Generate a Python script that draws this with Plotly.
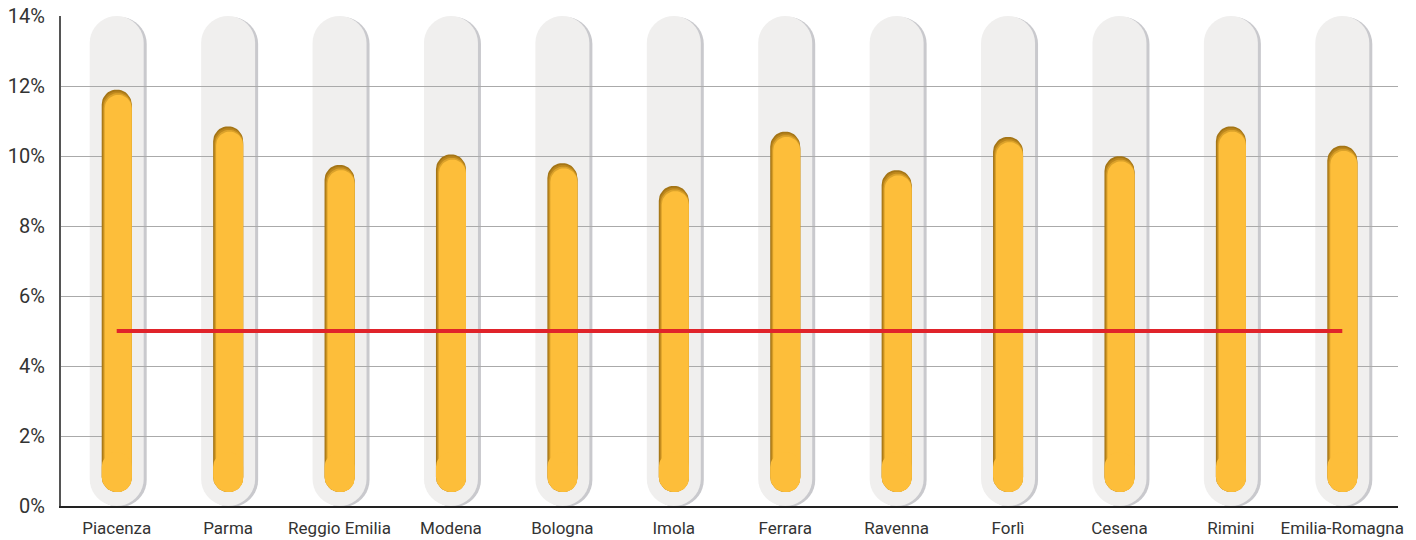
import math
import plotly.graph_objects as go

# ---------------- data ----------------
categories = ["Piacenza", "Parma", "Reggio Emilia", "Modena", "Bologna", "Imola",
              "Ferrara", "Ravenna", "Forlì", "Cesena", "Rimini", "Emilia-Romagna"]
values = [11.9, 10.85, 9.75, 10.05, 9.8, 9.15, 10.7, 9.6, 10.55, 10.0, 10.85, 10.3]
target = [5.0, 5.0]
y_tick_values = [0, 2, 4, 6, 8, 10, 12, 14]
y_tick_labels = ["0%", "2%", "4%", "6%", "8%", "10%", "12%", "14%"]
y_max = 14
bar_floor = 0.4

# ---------------- layout constants ----------------
W, H = 1416, 540
ML, MR, MT, MB = 61, 18, 16, 34
n = len(categories)
xs = list(range(n))
px_x = (W - ML - MR) / n          # pixels per category unit
px_y = (H - MT - MB) / y_max      # pixels per percent


def capsule_points(xc, half_w_px, y0, y1, dx_px=0.0, dy_top_px=0.0, dy_bot_px=0.0, steps=20):
    """Rounded (capsule) outline in data coordinates, as x and y lists."""
    rx = half_w_px / px_x
    ry = half_w_px / px_y
    cx = xc + dx_px / px_x
    b = y0 - dy_bot_px / px_y
    t = y1 - dy_top_px / px_y
    px, py = [], []
    for i in range(steps + 1):
        a = math.pi - math.pi * i / steps
        px.append(cx + rx * math.cos(a))
        py.append(t - ry + ry * math.sin(a))
    for i in range(steps + 1):
        a = -math.pi * i / steps
        px.append(cx + rx * math.cos(a))
        py.append(b + ry + ry * math.sin(a))
    px.append(px[0])
    py.append(py[0])
    return px, py


def capsule_path(*args, **kw):
    px, py = capsule_points(*args, **kw)
    return "M " + " L ".join(f"{a:.5f},{b:.5f}" for a, b in zip(px, py)) + " Z"


# background tubes (below the grid lines)
shapes = []
tube_half = 27
for i in xs:
    shapes.append(dict(type="path", xref="x", yref="y", layer="below",
                       path=capsule_path(i, tube_half, 0, y_max, dx_px=3, dy_top_px=1, dy_bot_px=1),
                       fillcolor="#c9c9cd", line=dict(width=0)))
    shapes.append(dict(type="path", xref="x", yref="y", layer="below",
                       path=capsule_path(i, tube_half, 0, y_max),
                       fillcolor="#f0efee", line=dict(width=0)))

fig = go.Figure()
BAR_HALF = 15.0


def add_layer(color, left_inset, top_inset, cap_height=None):
    half = BAR_HALF - left_inset / 2.0
    dx = left_inset / 2.0
    X, Y = [], []
    for i, v in zip(xs, values):
        top = bar_floor + cap_height / px_y if cap_height else v
        px, py = capsule_points(i, half, bar_floor, top, dx_px=dx, dy_top_px=top_inset)
        X += px + [None]
        Y += py + [None]
    fig.add_trace(go.Scatter(x=X, y=Y, mode="lines", fill="toself", fillcolor=color,
                             line=dict(width=0, color=color), hoverinfo="skip",
                             showlegend=False))


# value bars: layered tones give the inset (inner shadow) look
add_layer("#a47516", 0.0, 0.0)
add_layer("#bd871d", 1.0, 1.8)
add_layer("#dba22a", 2.0, 3.6)
add_layer("#fdbe3a", 3.0, 5.4)
# bright rounded bottom end
add_layer("#fdbe3a", 0.0, 0.0, cap_height=40)

fig.add_trace(go.Scatter(x=[xs[0], xs[-1]], y=target, mode="lines",
                         line=dict(color="#e0232a", width=4),
                         hoverinfo="skip", showlegend=False))

fig.update_layout(
    width=W, height=H,
    margin=dict(l=ML, r=MR, t=MT, b=MB, autoexpand=False),
    paper_bgcolor="white", plot_bgcolor="white",
    shapes=shapes,
    font=dict(family="Roboto", color="#333333"),
    xaxis=dict(range=[-0.5, n - 0.5], tickvals=xs, ticktext=categories,
               showgrid=False, zeroline=False, showline=True,
               linecolor="#222222", linewidth=2,
               ticks="outside", ticklen=6, tickcolor="rgba(0,0,0,0)",
               tickfont=dict(size=17, color="#333333"), automargin=False,
               fixedrange=True),
    yaxis=dict(range=[0, y_max], tickvals=y_tick_values, ticktext=y_tick_labels,
               showgrid=True, gridcolor="#aaaaaa", gridwidth=1,
               zeroline=False, showline=True, linecolor="#555555", linewidth=2,
               ticks="outside", ticklen=10, tickcolor="rgba(0,0,0,0)",
               tickfont=dict(size=20, color="#333333"), automargin=False,
               fixedrange=True),
)

fig.write_html("out.html", config={"displayModeBar": False},
               post_script="document.body.style.margin='0';document.body.style.overflow='hidden';")
